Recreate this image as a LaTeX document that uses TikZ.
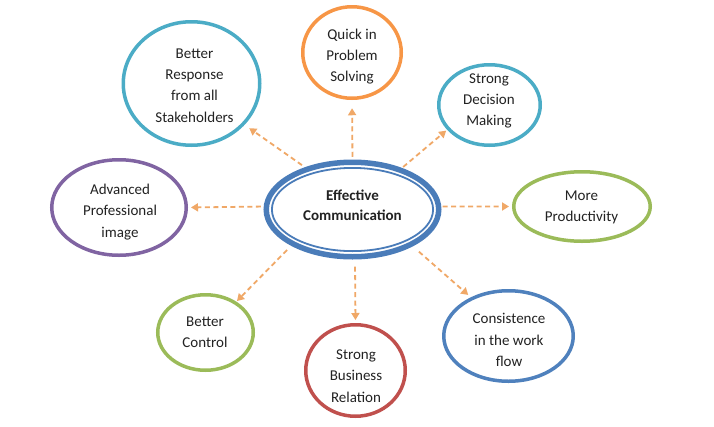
\documentclass[tikz,border=0pt]{standalone}
\usepackage{fontspec}
\setmainfont{Carlito}
\usetikzlibrary{shapes.geometric,arrows.meta}
\definecolor{cteal}{HTML}{4BACC6}
\definecolor{corange}{HTML}{F79646}
\definecolor{cpurple}{HTML}{8064A2}
\definecolor{cgreen}{HTML}{9BBB59}
\definecolor{cred}{HTML}{C0504D}
\definecolor{cblue}{HTML}{4F81BD}
\definecolor{ccentral}{HTML}{4A7CB9}
\definecolor{arrc}{HTML}{F0A867}
\definecolor{txtc}{HTML}{222222}
\begin{document}
\begin{tikzpicture}[x=1pt,y=-1pt,
  bub/.style={ellipse, draw, line width=3.5pt, inner sep=0pt, outer sep=0pt, fill=white},
  txt/.style={align=center, inner sep=0pt, text=txtc, font=\fontsize{15}{21.3}\selectfont},
  ctxt/.style={align=center, inner sep=0pt, text=txtc, font=\fontsize{15}{20}\selectfont\bfseries},
  arr/.style={draw=arrc, line width=1.8pt, dash pattern=on 5pt off 3.5pt, -{Triangle[width=8pt,length=7pt]}}]
\useasboundingbox[fill=white] (0,0) rectangle (714,426);

% central
\node[bub, draw=ccentral, line width=5.5pt, minimum width=172.5pt, minimum height=94.5pt] (c) at (352.5,209.5) {};
\draw[ccentral, line width=1.8pt] (c.center) ellipse [x radius=80.6pt, y radius=41.6pt];
\node[ctxt] (ct) at (352.5,205) {Effective\\Communication};

% outer bubbles
\node[bub, draw=cteal, minimum width=136.5pt, minimum height=123.5pt] (br) at (191.5,83.5) {};
\node[bub, draw=corange, minimum width=98.5pt, minimum height=91.5pt] (q) at (352,52.5) {};
\node[bub, draw=cteal, minimum width=101.5pt, minimum height=80.5pt] (sd) at (489.5,105) {};
\node[bub, draw=cpurple, minimum width=134.5pt, minimum height=95.5pt] (api) at (119,207.5) {};
\node[bub, draw=cgreen, minimum width=136.5pt, minimum height=69.5pt] (mp) at (582,206.5) {};
\node[bub, draw=cgreen, minimum width=95.5pt, minimum height=75.5pt] (bc) at (205.5,332.5) {};
\node[bub, draw=cred, minimum width=99.5pt, minimum height=91.5pt] (sbr) at (355.5,370.5) {};
\node[bub, draw=cblue, minimum width=129.5pt, minimum height=90.5pt] (cons) at (508.5,336) {};

% texts
\node[txt] (brt) at (194.5,85.5) {Better\\Response\\from all\\Stakeholders};
\node[txt] (qt) at (352,56.5) {Quick in\\Problem\\Solving};
\node[txt] (sdt) at (489,101) {Strong\\Decision\\Making};
\node[txt] (apit) at (120,212) {Advanced\\Professional\\image};
\node[txt] (mpt) at (581.5,207.5) {More\\Productivity};
\node[txt] (bct) at (205,332) {Better\\Control};
\node[txt] (sbrt) at (356,376) {Strong\\Business\\Relation};
\node[txt] (const) at (509,340) {Consistence\\in the work\\flow};

% arrows
\draw[arr, shorten <=7pt, shorten >=7.5pt] (c.138) -- (br.-38);
\draw[arr, shorten <=5.5pt, shorten >=10pt] (c.90) -- (q.-90);
\draw[arr, shorten <=4.6pt, shorten >=3pt] (c.40) -- (sd.210);
\draw[arr, shorten <=5.5pt, shorten >=4.75pt] (c.178) -- (api.0);
\draw[arr, shorten <=4pt, shorten >=4.75pt] (c.2) -- (mp.180);
\draw[arr, shorten <=8.7pt, shorten >=2.6pt] (c.210) -- (bc.45);
\draw[arr, shorten <=10pt, shorten >=4.75pt] (c.-87) -- (sbr.90);
\draw[arr, shorten <=11pt, shorten >=5.4pt] (c.-31) -- (cons.134);
\end{tikzpicture}
\end{document}
